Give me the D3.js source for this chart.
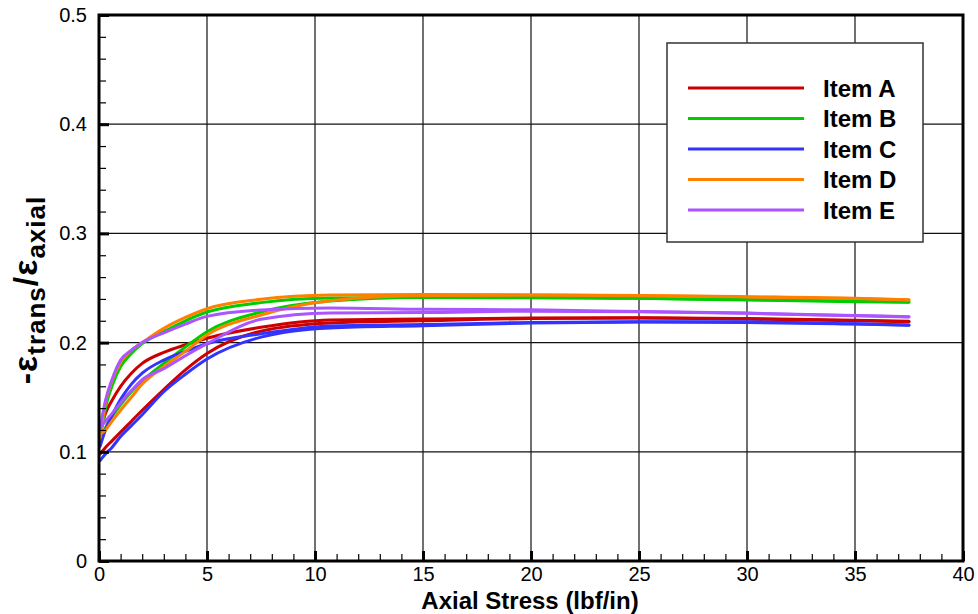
<!DOCTYPE html>
<html>
<head>
<meta charset="utf-8">
<script src="https://cdn.jsdelivr.net/npm/d3@7"></script>
<style>
  html, body { margin: 0; padding: 0; background: #fff; }
  svg { display: block; font-family: "Liberation Sans", Arial, Helvetica, sans-serif; }
</style>
</head>
<body>
<svg id="chart" width="978" height="614"></svg>
<script>
// ---- Data ----
const stress = [0.05, 0.3, 0.6, 1, 1.5, 2, 3, 4, 5, 7.5, 10.7, 15, 20, 25, 30, 35, 37.5];

const itemAUpper = [0.118, 0.135, 0.147, 0.160, 0.172, 0.181, 0.191, 0.198, 0.204, 0.214, 0.2207, 0.2215, 0.2225, 0.2228, 0.222, 0.2205, 0.2195];
const itemALower = [0.098, 0.104, 0.110, 0.118, 0.128, 0.138, 0.157, 0.175, 0.190, 0.2105, 0.2179, 0.220, 0.222, 0.2225, 0.2215, 0.220, 0.219];
const itemBUpper = [0.110, 0.140, 0.160, 0.178, 0.190, 0.199, 0.210, 0.220, 0.228, 0.2366, 0.2408, 0.2412, 0.241, 0.2405, 0.239, 0.2375, 0.237];
const itemBLower = [0.110, 0.122, 0.132, 0.143, 0.155, 0.165, 0.181, 0.196, 0.210, 0.228, 0.238, 0.2415, 0.2415, 0.2405, 0.2395, 0.238, 0.2372];
const itemCUpper = [0.105, 0.120, 0.133, 0.148, 0.162, 0.172, 0.184, 0.192, 0.199, 0.208, 0.2152, 0.2165, 0.2185, 0.219, 0.219, 0.2172, 0.2161];
const itemCLower = [0.092, 0.098, 0.104, 0.114, 0.124, 0.134, 0.155, 0.171, 0.185, 0.205, 0.2134, 0.2155, 0.218, 0.2188, 0.2185, 0.217, 0.2158];
const itemDUpper = [0.113, 0.145, 0.165, 0.182, 0.193, 0.200, 0.213, 0.223, 0.231, 0.2396, 0.2436, 0.2440, 0.2437, 0.2432, 0.242, 0.2405, 0.239];
const itemDLower = [0.116, 0.120, 0.128, 0.138, 0.150, 0.162, 0.178, 0.192, 0.207, 0.2253, 0.2384, 0.2432, 0.2435, 0.243, 0.2418, 0.2403, 0.2392];
const itemEUpper = [0.122, 0.147, 0.166, 0.184, 0.193, 0.200, 0.209, 0.217, 0.224, 0.2299, 0.2317, 0.2305, 0.230, 0.2285, 0.227, 0.2248, 0.2237];
const itemELower = [0.122, 0.128, 0.135, 0.145, 0.156, 0.166, 0.176, 0.188, 0.199, 0.2213, 0.2271, 0.2275, 0.2288, 0.2283, 0.2268, 0.2245, 0.2235];

const itemNames = ["Item A", "Item B", "Item C", "Item D", "Item E"];
const itemColors = ["#cc0000", "#00cc00", "#3333ff", "#ff8000", "#aa55ff"];
const xTicks = [0, 5, 10, 15, 20, 25, 30, 35, 40];
const yTicks = [0, 0.1, 0.2, 0.3, 0.4, 0.5];

const series = [
  { name: itemNames[0], color: itemColors[0], branches: [itemAUpper, itemALower] },
  { name: itemNames[1], color: itemColors[1], branches: [itemBUpper, itemBLower] },
  { name: itemNames[2], color: itemColors[2], branches: [itemCUpper, itemCLower] },
  { name: itemNames[3], color: itemColors[3], branches: [itemDUpper, itemDLower] },
  { name: itemNames[4], color: itemColors[4], branches: [itemEUpper, itemELower] }
];

// ---- Layout ----
const svg = d3.select("#chart");
const L = 99, R = 963, T = 15, B = 561;
const x = d3.scaleLinear().domain([0, 40]).range([L, R]);
const y = d3.scaleLinear().domain([0, 0.5]).range([B, T]);

// grid
const grid = svg.append("g");
grid.selectAll("line.vx").data(xTicks.slice(1, -1)).join("line")
  .attr("x1", d => x(d)).attr("x2", d => x(d)).attr("y1", T).attr("y2", B)
  .attr("stroke", "#111").attr("stroke-width", 1.2);
grid.selectAll("line.hy").data(yTicks.slice(1, -1)).join("line")
  .attr("x1", L).attr("x2", R).attr("y1", d => y(d)).attr("y2", d => y(d))
  .attr("stroke", "#111").attr("stroke-width", 1.2);

// curves
const line = d3.line().x(d => x(d[0])).y(d => y(d[1])).curve(d3.curveMonotoneX);
const curves = svg.append("g");
series.forEach(s => {
  s.branches.forEach(vals => {
    curves.append("path")
      .attr("d", line(stress.map((v, i) => [v, vals[i]])))
      .attr("fill", "none").attr("stroke", s.color).attr("stroke-width", 3)
      .attr("stroke-linejoin", "round").attr("stroke-linecap", "round");
  });
});

// axes with inward ticks
const xMinor = d3.range(0, 40.001, 1).filter(v => v % 5 !== 0);
const yMinor = d3.range(0, 0.5001, 0.02).filter(v => Math.abs(v * 10 - Math.round(v * 10)) > 1e-6);

const xAxis = d3.axisBottom(x).tickValues(xTicks).tickSize(-10).tickPadding(6).tickFormat(d3.format("d"));
const gx = svg.append("g").attr("transform", `translate(0,${B})`).call(xAxis);
gx.select(".domain").remove();
gx.selectAll(".tick line").attr("stroke", "#000").attr("stroke-width", 3);
gx.selectAll(".tick text").attr("font-size", 20).attr("fill", "#000").attr("dy", "0.72em")
  .attr("font-family", "'Liberation Sans', Arial, sans-serif");

const xAxisMinor = d3.axisBottom(x).tickValues(xMinor).tickSize(-7).tickFormat("");
const gxm = svg.append("g").attr("transform", `translate(0,${B})`).call(xAxisMinor);
gxm.select(".domain").remove();
gxm.selectAll(".tick line").attr("stroke", "#000").attr("stroke-width", 1.2);

const yAxis = d3.axisLeft(y).tickValues(yTicks).tickSize(-10).tickPadding(12)
  .tickFormat(d => d === 0 ? "0" : d3.format(".1f")(d));
const gy = svg.append("g").attr("transform", `translate(${L},0)`).call(yAxis);
gy.select(".domain").remove();
gy.selectAll(".tick line").attr("stroke", "#000").attr("stroke-width", 3);
gy.selectAll(".tick text").attr("font-size", 20).attr("fill", "#000")
  .attr("font-family", "'Liberation Sans', Arial, sans-serif");

const yAxisMinor = d3.axisLeft(y).tickValues(yMinor).tickSize(-7).tickFormat("");
const gym = svg.append("g").attr("transform", `translate(${L},0)`).call(yAxisMinor);
gym.select(".domain").remove();
gym.selectAll(".tick line").attr("stroke", "#000").attr("stroke-width", 1.2);

// frame
svg.append("rect").attr("x", L).attr("y", T).attr("width", R - L).attr("height", B - T)
  .attr("fill", "none").attr("stroke", "#000").attr("stroke-width", 3);

// axis titles
svg.append("text").attr("x", (L + R) / 2 - 1).attr("y", 609)
  .attr("text-anchor", "middle").attr("font-weight", "bold").attr("font-size", 24)
  .attr("fill", "#000").text("Axial Stress (lbf/in)");

const yt = svg.append("text")
  .attr("transform", `translate(37,${(T + B) / 2 + 2}) rotate(-90)`)
  .attr("text-anchor", "middle").attr("font-weight", "bold").attr("font-size", 34)
  .attr("letter-spacing", 1).attr("fill", "#000");
yt.append("tspan").text("-ε");
yt.append("tspan").attr("font-size", 26).attr("dy", 8).text("trans");
yt.append("tspan").attr("dy", -8).text("/ε");
yt.append("tspan").attr("font-size", 26).attr("dy", 8).text("axial");

// legend
const lg = svg.append("g");
lg.append("rect").attr("x", 667).attr("y", 43).attr("width", 256).attr("height", 199)
  .attr("fill", "#fff").attr("stroke", "#333").attr("stroke-width", 1.5);
const ly = d3.scalePoint().domain(itemNames).range([88, 210]);
itemNames.forEach((n, i) => {
  lg.append("line").attr("x1", 688).attr("x2", 804).attr("y1", ly(n)).attr("y2", ly(n))
    .attr("stroke", itemColors[i]).attr("stroke-width", 3);
  lg.append("text").attr("x", 823).attr("y", ly(n)).attr("dy", "0.36em")
    .attr("font-size", 24).attr("font-weight", "bold").attr("fill", "#000").text(n);
});
</script>
</body>
</html>
